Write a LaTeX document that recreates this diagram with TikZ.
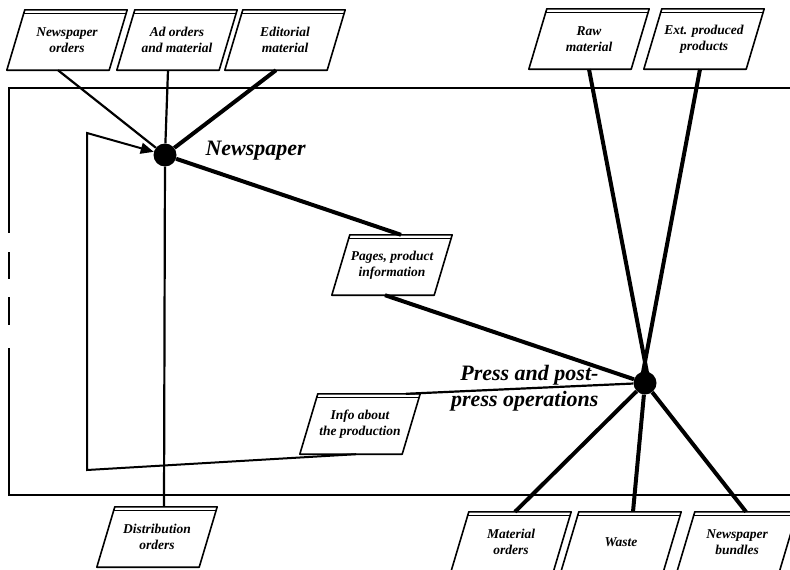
\documentclass[tikz,border=0pt]{standalone}
\usepackage{fontspec}
\setmainfont{Liberation Serif}
\usetikzlibrary{shapes.geometric,arrows.meta,positioning,calc}

\begin{document}
\begin{tikzpicture}[
x=1pt, y=-1pt,
font=\bfseries\itshape,
box/.style={rectangle, minimum width=102pt, minimum height=60pt, inner sep=1pt,
  align=center, font=\bfseries\itshape\fontsize{13.5}{16}\selectfont},
dot/.style={circle, fill=black, inner sep=0pt, minimum size=23pt},
biglbl/.style={font=\bfseries\itshape\fontsize{22}{26}\selectfont},
frame/.style={line width=1.8pt},
boxline/.style={line width=1.6pt, line join=round},
thinline/.style={line width=2.2pt},
thickline/.style={line width=4pt},
arr/.style={-{Triangle[length=13pt,width=11pt]}, line width=2pt}
]
\useasboundingbox (0,0) rectangle (790,570);

% Outer frame (open to the right)
\draw[frame] (800,88) -- (9,88) -- (9,233);
\draw[frame] (9,252) -- (9,279);
\draw[frame] (9,297) -- (9,325);
\draw[frame] (9,348) -- (9,495) -- (800,495);

% Inputs on top
\node[box] (nord) at (67,40) {Newspaper\\orders};
\node[box] (ad) at (177,40) {Ad orders\\and material};
\node[box] (edit) at (285,40) {Editorial\\material};
\node[box] (raw) at (589,39) {Raw\\material};
\node[box] (ext) at (704,39) {Ext. produced\\products};

% Processes
\node[dot] (news) at (165,155) {};
\node[dot] (press) at (645,383) {};
\node[biglbl, anchor=west] (newslbl) at (202,151) {Newspaper};
\node[biglbl, anchor=east, align=right] (presslbl) at (602,388) {Press and post-\\press operations};

% Internal flows
\node[box] (pages) at (392,265) {Pages, product\\information};
\node[box] (info) at (360,424) {Info about\\the production};

% Outputs at the bottom
\node[box] (dist) at (157,537) {Distribution\\orders};
\node[box] (mat) at (511,542) {Material\\orders};
\node[box] (waste) at (621,542) {Waste};
\node[box] (bund) at (737,542) {Newspaper\\bundles};

% Slanted outline with double top edge
\foreach \n in {nord,ad,edit,raw,ext,pages,info,dist,mat,waste,bund} {
  \draw[boxline] ($(\n.south west)+(-9,0)$) -- ($(\n.south east)+(-9,0)$)
    -- ($(\n.north east)+(9,0)$) -- ($(\n.north west)+(9,0)$) -- cycle;
  \draw[line width=1pt] ($(\n.north west)+(7.8,4)$) -- ($(\n.north east)+(7.8,4)$);
}

\coordinate (infoin) at ($(info.north west)!0.86!(info.north east)+(9,0)$);
\coordinate (infoout) at ($(info.south west)!0.55!(info.south east)+(-9,0)$);
\coordinate (loopbot) at (87,470);
\coordinate (looptop) at (87,133);

% Connections
\draw[thinline] ($(nord.south)+(-9,0)$) -- (news);
\draw[thinline] ($(ad.south)+(-9,0)$) -- (news);
\draw[thickline] ($(edit.south)+(-9,0)$) -- (news);
\draw[thinline] (news) -- ($(dist.north)+(7,0)$);
\draw[thickline] (news) -- ($(pages.north)+(9,0)$);
\draw[thickline] ($(pages.south)+(-7,0)$) -- (press);
\draw[thickline] (raw.south) -- ($(press.center)+(4,0)$);
\draw[thickline] ($(ext.south)+(-4,0)$) -- ($(press.center)+(-4,0)$);
\draw[thickline] (press) -- ($(mat.north)+(4,0)$);
\draw[thickline] (press) -- ($(waste.north)+(12,0)$);
\draw[thickline] (press) -- ($(bund.north)+(9,0)$);

% Feedback
\draw[thinline] (press) -- (infoin);
\draw[arr] (infoout) -- (loopbot) -- (looptop) -- (news);

\end{tikzpicture}
\end{document}
